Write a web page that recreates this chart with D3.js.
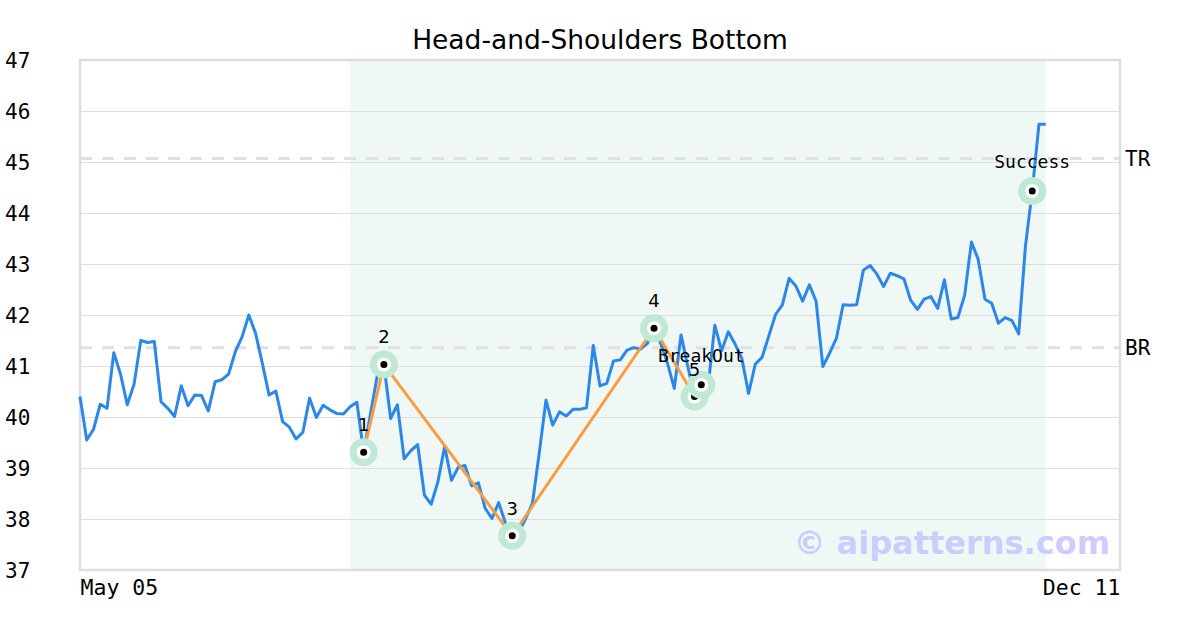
<!DOCTYPE html>
<html>
<head>
<meta charset="utf-8">
<script src="https://cdn.jsdelivr.net/npm/d3@7"></script>
<style>
  html, body { margin: 0; padding: 0; background: #ffffff; }
  svg { display: block; }
</style>
</head>
<body>
<svg id="chart" width="1200" height="630"></svg>
<script>
// ---------- data ----------
const title = "Head-and-Shoulders Bottom";
const xTickLabels = ["May 05", "Dec 11"];
const yTicks = [37, 38, 39, 40, 41, 42, 43, 44, 45, 46, 47];
const closes = [
  40.40, 39.55, 39.76, 40.25, 40.17, 41.26, 40.84, 40.24, 40.64, 41.50,
  41.46, 41.48, 40.30, 40.17, 40.01, 40.61, 40.22, 40.43, 40.42, 40.12,
  40.69, 40.73, 40.84, 41.28, 41.57, 42.00, 41.64, 41.05, 40.43, 40.51,
  39.91, 39.80, 39.57, 39.70, 40.37, 39.99, 40.23, 40.14, 40.07, 40.06,
  40.20, 40.29, 39.31, 40.05, 40.80, 41.03, 39.97, 40.24, 39.18, 39.34,
  39.46, 38.47, 38.29, 38.73, 39.42, 38.76, 39.01, 39.05, 38.65, 38.71,
  38.21, 38.01, 38.32, 37.92, 37.67, 37.75, 38.01, 38.31, 39.29, 40.33,
  39.84, 40.10, 40.02, 40.15, 40.15, 40.18, 41.40, 40.61, 40.66, 41.10,
  41.12, 41.31, 41.36, 41.33, 41.44, 41.74, 41.44, 41.05, 40.56, 41.61,
  40.99, 40.40, 40.63, 40.59, 41.80, 41.30, 41.67, 41.43, 41.15, 40.46,
  41.04, 41.17, 41.59, 42.01, 42.20, 42.72, 42.57, 42.27, 42.59, 42.27,
  40.99, 41.25, 41.54, 42.20, 42.19, 42.20, 42.88, 42.97, 42.80, 42.56,
  42.82, 42.77, 42.71, 42.29, 42.11, 42.31, 42.36, 42.13, 42.69, 41.92,
  41.95, 42.39, 43.43, 43.09, 42.31, 42.23, 41.84, 41.95, 41.89, 41.63,
  43.35, 44.43, 45.74, 45.74
];
const xDomainEnd = 154;            // last slot of the time axis (Dec 11)
const shadeRange = [40, 143];      // pattern window (indices)
const patternIdx = [42, 45, 64, 85, 91];
const patternVal = [39.31, 41.03, 37.67, 41.74, 40.40];
const patternLabels = ["1", "2", "3", "4", "5"];
const eventIdx = [92, 141];
const eventVal = [40.63, 44.43];
const eventLabels = ["BreakOut", "Success"];
const levelNames = ["TR", "BR"];
const levelVals = [45.07, 41.36];
const watermark = "\u00a9 aipatterns.com";

// ---------- layout ----------
const L = 80, R = 1120, T = 60, B = 570;
const svg = d3.select("#chart");
const x = d3.scaleLinear().domain([0, xDomainEnd]).range([L, R]);
const y = d3.scaleLinear().domain([37, 47]).range([B, T]);

svg.append("rect").attr("width", 1200).attr("height", 630).attr("fill", "#ffffff");

// shaded pattern window
svg.append("rect")
  .attr("x", x(shadeRange[0])).attr("y", T)
  .attr("width", x(shadeRange[1]) - x(shadeRange[0]))
  .attr("height", B - T)
  .attr("fill", "#eff8f4");

// gridlines via axis
const yGrid = d3.axisLeft(y).tickValues(yTicks).tickSize(-(R - L)).tickFormat("");
const gg = svg.append("g").attr("transform", `translate(${L},0)`).call(yGrid);
gg.select(".domain").remove();
gg.selectAll("line").attr("stroke", "#dedede").attr("stroke-width", 1);

// y tick labels
const yAxis = d3.axisLeft(y).tickValues(yTicks).tickSize(0).tickFormat(d3.format("d"));
const ya = svg.append("g").attr("transform", `translate(5,0)`).call(yAxis);
ya.select(".domain").remove();
ya.selectAll("text")
  .attr("text-anchor", "start").attr("x", 0).attr("dy", "0.35em")
  .attr("font-family", "DejaVu Sans Mono, monospace").attr("font-size", 21).attr("fill", "#000");

// x tick labels
const xAxis = d3.axisBottom(x).tickValues([0, xDomainEnd]).tickSize(0)
  .tickFormat((d, i) => xTickLabels[i]);
const xa = svg.append("g").attr("transform", `translate(0,${B})`).call(xAxis);
xa.select(".domain").remove();
xa.selectAll("text")
  .attr("text-anchor", (d, i) => i === 0 ? "start" : "end")
  .attr("y", 10).attr("dy", "0.71em")
  .attr("font-family", "DejaVu Sans Mono, monospace").attr("font-size", 21.5).attr("fill", "#000");

// level lines TR / BR
svg.selectAll(".lvl").data(levelVals).enter().append("line")
  .attr("x1", L).attr("x2", R)
  .attr("y1", d => y(d)).attr("y2", d => y(d))
  .attr("stroke", "#e0e0e0").attr("stroke-width", 3).attr("stroke-dasharray", "12,10");
svg.selectAll(".lvlt").data(levelVals).enter().append("text")
  .attr("x", R + 5).attr("y", d => y(d)).attr("dy", "0.35em")
  .attr("font-family", "DejaVu Sans Mono, monospace").attr("font-size", 21).attr("fill", "#000")
  .text((d, i) => levelNames[i]);

// frame
svg.append("rect").attr("x", L).attr("y", T).attr("width", R - L).attr("height", B - T)
  .attr("fill", "none").attr("stroke", "#dddddd").attr("stroke-width", 2.5);

// price line
const line = d3.line().x((d, i) => x(i)).y(d => y(d));
svg.append("path").datum(closes).attr("d", line)
  .attr("fill", "none").attr("stroke", "#2b87e8").attr("stroke-width", 3)
  .attr("stroke-linejoin", "round");

// pattern zigzag
const pts = patternIdx.map((d, i) => [d, patternVal[i]]);
svg.append("path").datum(pts)
  .attr("d", d3.line().x(d => x(d[0])).y(d => y(d[1])))
  .attr("fill", "none").attr("stroke", "#fb9c42").attr("stroke-width", 3);

// markers
function marker(cx, cy) {
  svg.append("circle").attr("cx", cx).attr("cy", cy).attr("r", 14).attr("fill", "#c0e9d5");
  svg.append("circle").attr("cx", cx).attr("cy", cy).attr("r", 7).attr("fill", "#ffffff");
  svg.append("circle").attr("cx", cx).attr("cy", cy).attr("r", 3.5).attr("fill", "#000000");
}
pts.forEach(p => marker(x(p[0]), y(p[1])));
eventIdx.forEach((d, i) => marker(x(d), y(eventVal[i])));

// labels
pts.forEach((p, i) => {
  svg.append("text").attr("x", x(p[0])).attr("y", y(p[1]) - 21)
    .attr("text-anchor", "middle")
    .attr("font-family", "DejaVu Sans, sans-serif").attr("font-size", 18).attr("fill", "#000")
    .text(patternLabels[i]);
});
eventIdx.forEach((d, i) => {
  svg.append("text").attr("x", x(d)).attr("y", y(eventVal[i]) - 23)
    .attr("text-anchor", "middle")
    .attr("font-family", "DejaVu Sans Mono, monospace").attr("font-size", 18).attr("fill", "#000")
    .text(eventLabels[i]);
});

// title
svg.append("text").attr("x", 600).attr("y", 49).attr("text-anchor", "middle")
  .attr("font-family", "DejaVu Sans, sans-serif").attr("font-size", 26.5).attr("fill", "#000")
  .text(title);

// watermark
svg.append("text").attr("x", 1110).attr("y", 554).attr("text-anchor", "end")
  .attr("font-family", "DejaVu Sans, sans-serif").attr("font-weight", "bold")
  .attr("font-size", 32).attr("fill", "#ccccff")
  .text(watermark);
</script>
</body>
</html>
